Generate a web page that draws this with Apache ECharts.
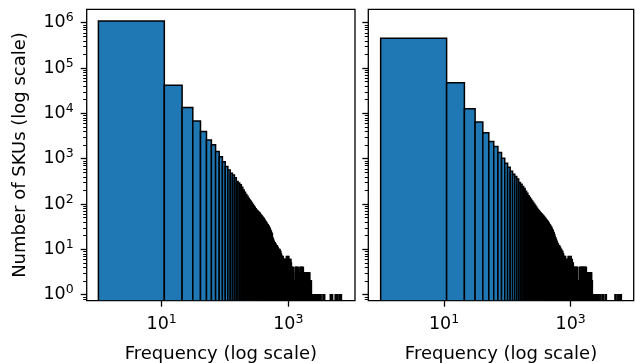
<!DOCTYPE html>
<html><head><meta charset="utf-8">
<script src="https://cdn.jsdelivr.net/npm/echarts@6/dist/echarts.min.js"></script>
<style>html,body{margin:0;padding:0;background:#fff}#c{width:635px;height:363px}</style>
</head><body><div id="c"></div>
<script>
// Histogram bins: width 10, starting at frequency 1
const binStart = 1;
const binWidth = 10;

// Left panel: counts per bin (index k -> [1+10k, 11+10k))
const countsA = [
  1090000, 41500, 13500, 6830, 3960, 2600, 2020, 1435, 1110, 862, 670,
  565, 480, 440, 380, 315, 290, 265, 235, 204, 182,
  162, 148, 135, 123, 115, 105, 98, 91, 85, 79,
  74, 71, 68, 65, 63, 59, 56, 54, 51, 49,
  47, 44, 42, 40, 38, 36, 35, 33, 32, 30,
  28, 26, 25, 23, 22, 18, 17, 16, 15, 14,
  14, 13, 13, 12, 12, 12, 11, 11, 10, 10,
  10, 9, 10, 9, 9, 8, 8, 7, 7, 7,
  6, 7, 6, 6, 6, 6, 5, 6, 6, 5,
  6, 6, 7, 6, 5, 6, 7, 6, 5, 6,
  7, 5, 6, 5, 4, 5,
  6, 5, 6, 5, 5, 4,
  4, 4, 3, 4, 4, 3, 4,
  2, 2, 1, 2, 2, 1, 2, 2,
  4,3,4,4,3,4,3,3,4,4, 3,4,3,4,3,3,4,3,2,1, 2,2,1,2,3,4,3,4,4,3, 3,4,3,3,4,2,3,4,3,4, 3,4,3,3,4,
  3,2,3,2,2,3,2,3,2,2,3,
  3,2,3,2,2,3,2,1,3,2, 2,3,2,2,3,1,2,3,2,2, 3,2,2,3,1,2,2,3,2,2, 3,2,2,1,3,2,
  2,1,1,2,1,2,1,1,2,1,1,2,1,1,
  1,1,0,1,1,1,0,1,1,0, 1,1,0,1,1,0,1,0,1,1, 0,1,1,0,1,0,1,0,1,1
];
// Left panel: far-tail bins (index k) holding a single SKU
const tailA = [266, 272, 279, 290, 300, 310, 325, 340, 360, 375, 460, 480, 500, 550, 570, 590, 610, 640, 660, 690];

// Right panel: counts per bin
const countsB = [
  453000, 47300, 12600, 6450, 3740, 2390, 1850, 1365, 1025, 795, 650,
  530, 455, 405, 355, 300, 272, 245, 220, 192, 172,
  153, 140, 127, 117, 108, 100, 93, 86, 80, 75,
  71, 67, 64, 61, 59, 56, 54, 51, 49, 47,
  45, 43, 41, 39, 37, 35, 34, 32, 31, 29,
  27, 26, 24, 23, 21, 19, 18, 17, 16, 15,
  14, 13, 13, 12, 12, 12, 11, 11, 10, 10,
  10, 9, 9, 9, 8, 8, 7, 7, 7, 6,
  6,7,6,6,6,5,6,6,5,6, 7,6,6,5,6,7,6,5,6,6, 7,5,6,5,6,5,
  5,4,5,4,4,4,3,4,4,
  4,3,4,4,3,4,3,4,3,4,3,4,4,
  2,2,1,2,2,1,2,
  2,2,4,3,4,4,3,4,3,3, 4,4,2,3,4,3,4,4,3,4, 3,4,4,3,3,4,2,3,4,4, 3,4,3,4,3,3,4,4,3,3, 4,3,
  3,2,3,3,2,2,3,2,3,1, 2,3,2,3,2,2,3,2,1,3, 2,2,3,2,3,2,2,3,1,2, 3,2,2,3,2,3,
  2,1,2,1,2,2,1,
  1,1,1,0,1,1,0,1,1,1, 0,1,1,0,1,1,0,1,0,1, 1,0,1,1,0,1,0,1,1,0, 1,0,1,1,0,1,0,0,1,1, 0,1,0,1,0,1,0,0,1,0, 1
];
const tailB = [280, 290, 300, 315, 330, 350, 365, 500, 515, 540, 560, 580, 600, 615, 630];

// Tick values
const yTicks = [1, 10, 100, 1000, 10000, 100000, 1000000];
const yMinorMantissas = [2, 3, 4, 5, 6, 7, 8, 9];
const yMinorDecades = [0.1, 1, 10, 100, 1000, 10000, 100000, 1000000];
const xTicks = [10, 1000];

// Axis limits
const yMin = Math.pow(10, -0.132), yMax = Math.pow(10, 6.296);
const xMinA = Math.pow(10, -0.185), xMaxA = Math.pow(10, 4.054);
const xMinB = Math.pow(10, -0.195), xMaxB = Math.pow(10, 3.995);

const yMinorTicks = [];
yMinorDecades.forEach(d => yMinorMantissas.forEach(m => {
  const v = +(m * d).toPrecision(6);
  if (v > yMin && v < yMax) yMinorTicks.push(v);
}));

function toBins(counts, tail) {
  const out = [];
  counts.forEach((c, k) => { if (c > 0) out.push([binStart + k * binWidth, binStart + (k + 1) * binWidth, c]); });
  tail.forEach(k => out.push([binStart + k * binWidth, binStart + (k + 1) * binWidth, 1]));
  return out;
}

const FONT = 'DejaVu Sans';
const richLabel = {
  b: { fontSize: 17.5, fontFamily: FONT, color: '#000', lineHeight: 22 },
  s: { fontSize: 12.5, fontFamily: FONT, color: '#000', verticalAlign: 'top', lineHeight: 14 }
};
const fmtPow = v => '{b|10}{s|' + Math.round(Math.log10(v)) + '}';

function renderBar(params, api) {
  const x0 = api.value(0), x1 = api.value(1), c = api.value(2);
  const pTop = api.coord([x0, c]);
  const pBot = api.coord([x1, yMin]);
  return {
    type: 'rect',
    shape: { x: pTop[0], y: pTop[1], width: pBot[0] - pTop[0], height: pBot[1] - pTop[1] },
    style: { fill: '#1f77b4', stroke: '#000', lineWidth: 1.5 }
  };
}

function xAxisFor(grid, min, max) {
  return {
    type: 'log', logBase: 10, gridIndex: grid, min: min, max: max,
    name: 'Frequency (log scale)', nameLocation: 'middle', nameGap: 45,
    nameTextStyle: { fontSize: 18, fontFamily: FONT, color: '#000' },
    axisLine: { show: false, onZero: false },
    axisTick: { show: true, inside: false, length: 6, lineStyle: { color: '#000', width: 1.3 }, customValues: xTicks },
    axisLabel: { show: true, customValues: xTicks, formatter: fmtPow, rich: richLabel, margin: 13 },
    splitLine: { show: false }, minorTick: { show: false }
  };
}
function yAxisFor(grid, withLabels) {
  return {
    type: 'log', logBase: 10, gridIndex: grid, min: yMin, max: yMax, position: 'left',
    name: withLabels ? 'Number of SKUs (log scale)' : '', nameLocation: 'middle', nameGap: 57,
    nameTextStyle: { fontSize: 18, fontFamily: FONT, color: '#000' },
    axisLine: { show: false },
    axisTick: { show: true, inside: false, length: 6, lineStyle: { color: '#000', width: 1.3 }, customValues: yTicks },
    axisLabel: { show: withLabels, customValues: yTicks, formatter: fmtPow, rich: richLabel, margin: 13 },
    splitLine: { show: false }
  };
}
function yMinorAxisFor(grid) {
  return {
    type: 'log', logBase: 10, gridIndex: grid, min: yMin, max: yMax, position: 'left',
    axisLine: { show: false },
    axisTick: { show: true, inside: false, length: 3.5, lineStyle: { color: '#000', width: 1 }, customValues: yMinorTicks },
    axisLabel: { show: false }, splitLine: { show: false }
  };
}

const gridBase = { top: 9.3, height: 291.4, show: true, borderColor: '#000', borderWidth: 1.3, backgroundColor: 'transparent', containLabel: false, outerBoundsMode: 'none' };

const chart = echarts.init(document.getElementById('c'), null, { renderer: 'canvas' });
chart.setOption({
  animation: false,
  backgroundColor: '#fff',
  grid: [
    Object.assign({ left: 86.7, width: 268.3 }, gridBase),
    Object.assign({ left: 368.3, width: 265.4 }, gridBase)
  ],
  xAxis: [xAxisFor(0, xMinA, xMaxA), xAxisFor(1, xMinB, xMaxB)],
  yAxis: [yAxisFor(0, true), yMinorAxisFor(0), yAxisFor(1, false), yMinorAxisFor(1)],
  series: [
    { type: 'custom', xAxisIndex: 0, yAxisIndex: 0, clip: true, renderItem: renderBar, encode: { x: [0, 1], y: 2 }, data: toBins(countsA, tailA) },
    { type: 'custom', xAxisIndex: 1, yAxisIndex: 2, clip: true, renderItem: renderBar, encode: { x: [0, 1], y: 2 }, data: toBins(countsB, tailB) }
  ]
});
</script>
</body></html>
